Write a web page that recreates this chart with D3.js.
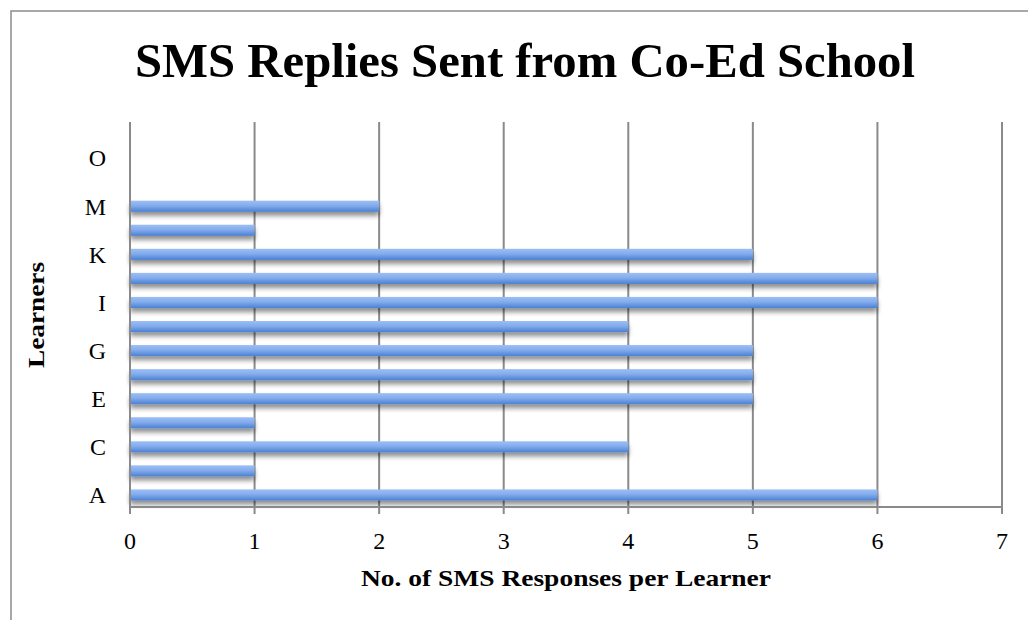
<!DOCTYPE html>
<html>
<head>
<meta charset="utf-8">
<script src="https://cdn.jsdelivr.net/npm/d3@7"></script>
<style>
  html, body { margin: 0; padding: 0; background: #fff; }
  svg { display: block; }
</style>
</head>
<body>
<svg id="chart" width="1028" height="620"></svg>
<script>
// Learners (bottom to top) and SMS replies per learner
const learners = ["A","B","C","D","E","F","G","H","I","J","K","L","M","N","O","P"];
const replies  = [6, 1, 4, 1, 5, 5, 5, 4, 6, 6, 5, 1, 2, 0, 0, 0];
const shownLabels = ["A","C","E","G","I","K","M","O"];
const xTicks = [0, 1, 2, 3, 4, 5, 6, 7];

const titleText = "SMS Replies Sent from Co-Ed School";
const xTitle = "No. of SMS Responses per Learner";
const yTitle = "Learners";

const W = 1028, H = 620;
const plot = { left: 130, right: 1002, top: 122, bottom: 507 };
const serif = "'Liberation Serif', 'DejaVu Serif', serif";

const svg = d3.select("#chart");
const defs = svg.append("defs");

const grad = defs.append("linearGradient")
  .attr("id", "barFill").attr("x1", 0).attr("y1", 0).attr("x2", 0).attr("y2", 1);
grad.append("stop").attr("offset", "0%").attr("stop-color", "#9bbef5");
grad.append("stop").attr("offset", "45%").attr("stop-color", "#84acec");
grad.append("stop").attr("offset", "100%").attr("stop-color", "#4a80d2");

const shadow = defs.append("filter").attr("id", "barShadow")
  .attr("x", "-5%").attr("y", "-50%").attr("width", "110%").attr("height", "250%");
shadow.append("feGaussianBlur").attr("in", "SourceAlpha").attr("stdDeviation", 2.5).attr("result", "b");
shadow.append("feOffset").attr("in", "b").attr("dx", 0).attr("dy", 4).attr("result", "o");
shadow.append("feComponentTransfer").attr("in", "o").attr("result", "s")
  .append("feFuncA").attr("type", "linear").attr("slope", 0.45);
const merge = shadow.append("feMerge");
merge.append("feMergeNode").attr("in", "s");
merge.append("feMergeNode").attr("in", "SourceGraphic");

// outer chart frame
svg.append("rect")
  .attr("x", 11).attr("y", 11).attr("width", W).attr("height", H)
  .attr("fill", "none").attr("stroke", "#8c8c8c").attr("stroke-width", 1.5);

const x = d3.scaleLinear().domain([0, 7]).range([plot.left, plot.right]);
const y = d3.scaleBand().domain(learners).range([plot.bottom, plot.top]).paddingInner(0.54).paddingOuter(0.27);

// vertical gridlines
svg.append("g").selectAll("line").data(xTicks).join("line")
  .attr("x1", d => x(d)).attr("x2", d => x(d))
  .attr("y1", plot.top).attr("y2", plot.bottom + 7)
  .attr("stroke", "#8a8a8a").attr("stroke-width", 2);

// bars
svg.append("g").selectAll("rect").data(learners.map((k, i) => ({ k, v: replies[i] })).filter(d => d.v > 0))
  .join("rect")
  .attr("x", x(0))
  .attr("y", d => y(d.k))
  .attr("width", d => x(d.v) - x(0))
  .attr("height", y.bandwidth())
  .attr("fill", "url(#barFill)")
  .attr("filter", "url(#barShadow)");

// axes lines
svg.append("line").attr("x1", plot.left).attr("x2", plot.right)
  .attr("y1", plot.bottom).attr("y2", plot.bottom)
  .attr("stroke", "#8a8a8a").attr("stroke-width", 2);
svg.append("line").attr("x1", plot.left).attr("x2", plot.left)
  .attr("y1", plot.top).attr("y2", plot.bottom + 7)
  .attr("stroke", "#8a8a8a").attr("stroke-width", 2);

// x tick labels
svg.append("g").selectAll("text").data(xTicks).join("text")
  .attr("x", d => x(d)).attr("y", 549)
  .attr("text-anchor", "middle")
  .attr("font-family", serif).attr("font-size", 24).attr("fill", "#000")
  .text(d => d);

// y tick labels
svg.append("g").selectAll("text").data(shownLabels).join("text")
  .attr("x", 106).attr("y", d => y(d) + y.bandwidth() / 2)
  .attr("dy", "0.35em")
  .attr("text-anchor", "end")
  .attr("font-family", serif).attr("font-size", 24).attr("fill", "#000")
  .text(d => d);

// title
svg.append("text")
  .attr("x", 525).attr("y", 77)
  .attr("text-anchor", "middle")
  .attr("font-family", serif).attr("font-weight", "bold").attr("font-size", 48)
  .attr("textLength", 780).attr("lengthAdjust", "spacingAndGlyphs")
  .attr("fill", "#000")
  .text(titleText);

// axis titles
svg.append("text")
  .attr("x", 566).attr("y", 586)
  .attr("text-anchor", "middle")
  .attr("font-family", serif).attr("font-weight", "bold").attr("font-size", 24)
  .attr("textLength", 410).attr("lengthAdjust", "spacingAndGlyphs")
  .text(xTitle);

svg.append("text")
  .attr("transform", "translate(44,315) rotate(-90)")
  .attr("text-anchor", "middle")
  .attr("font-family", serif).attr("font-weight", "bold").attr("font-size", 24)
  .attr("textLength", 106).attr("lengthAdjust", "spacingAndGlyphs")
  .text(yTitle);
</script>
</body>
</html>
